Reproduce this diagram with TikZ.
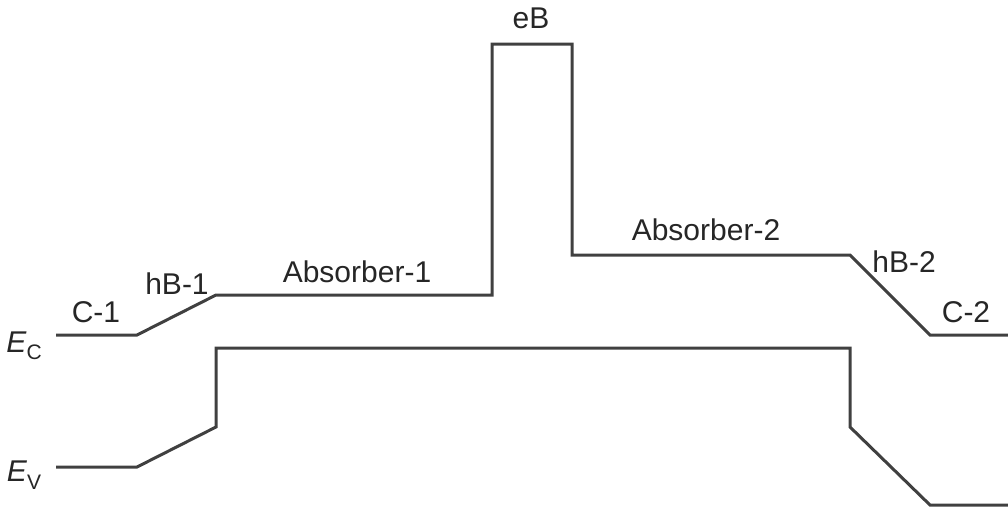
\documentclass[tikz,border=0pt]{standalone}
\usepackage{fontspec}
\setmainfont{Liberation Sans}
\begin{document}
\begin{tikzpicture}[x=1pt,y=-1pt,
  band/.style={draw=black!75,line width=3pt,line join=miter},
  lbl/.style={font=\fontsize{30}{33}\selectfont,text=black!85,inner sep=0pt}]
\useasboundingbox (0,0) rectangle (1008,512);
% conduction band
\coordinate (c0) at (56,335);
\coordinate (c1) at (137,335);
\coordinate (c2) at (216,295);
\coordinate (c3) at (492,295);
\coordinate (c4) at (492,44);
\coordinate (c5) at (572,44);
\coordinate (c6) at (572,255);
\coordinate (c7) at (850,255);
\coordinate (c8) at (930,335);
\coordinate (c9) at (1010,335);
\draw[band] (c0) -- (c1) -- (c2) -- (c3) -- (c4) -- (c5) -- (c6) -- (c7) -- (c8) -- (c9);
% valence band
\coordinate (v0) at (56,467);
\coordinate (v1) at (137,467);
\coordinate (v2) at (216,427);
\coordinate (v3) at (216,348);
\coordinate (v4) at (850,348);
\coordinate (v5) at (850,427);
\coordinate (v6) at (930,505);
\coordinate (v7) at (1010,505);
\draw[band] (v0) -- (v1) -- (v2) -- (v3) -- (v4) -- (v5) -- (v6) -- (v7);
% labels
\node[lbl] (lc1) at (96,312) {C-1};
\node[lbl] (lhb1) at (177,284) {hB-1};
\node[lbl] (la1) at (357,272) {Absorber-1};
\node[lbl] (leb) at (531,18) {eB};
\node[lbl] (la2) at (706,230) {Absorber-2};
\node[lbl] (lhb2) at (904,262) {hB-2};
\node[lbl] (lc2) at (966,312) {C-2};
\node[lbl] (lec) at (24,346) {\textit{E}\raisebox{-0.25em}{\fontsize{21}{23}\selectfont C}};
\node[lbl] (lev) at (24,475) {\textit{E}\raisebox{-0.25em}{\fontsize{21}{23}\selectfont V}};
\end{tikzpicture}
\end{document}
